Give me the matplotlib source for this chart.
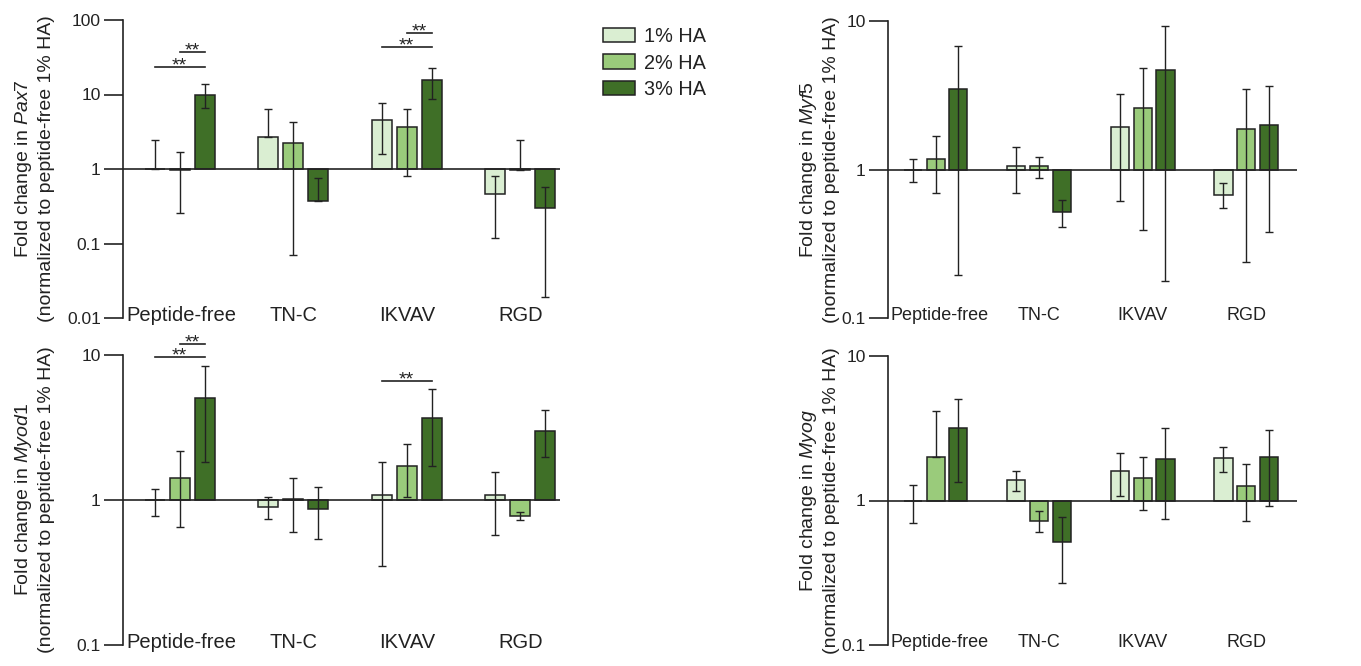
import numpy as np
import matplotlib
matplotlib.use("Agg")
import matplotlib.pyplot as plt
from matplotlib.patches import Patch
from matplotlib.ticker import FixedLocator, NullLocator, FuncFormatter

plt.rcParams['font.family'] = ['Liberation Sans', 'DejaVu Sans']
plt.rcParams['mathtext.fontset'] = 'custom'
plt.rcParams['mathtext.rm'] = 'Liberation Sans'
plt.rcParams['mathtext.it'] = 'Liberation Sans:italic'

peptides = ['Peptide-free', 'TN-C', 'IKVAV', 'RGD']
ha_levels = ['1% HA', '2% HA', '3% HA']
colors = ['#daeed2', '#9acb7b', '#3f6f27']

# fold change; rows = 1%, 2%, 3% HA, columns = peptides
pax7_mean = [[1.0, 2.72, 4.6, 0.46], [0.96, 2.24, 3.63, 0.97], [10.0, 0.37, 15.8, 0.30]]
pax7_low = [[1.0, 2.72, 1.6, 0.118], [0.26, 0.070, 0.81, 0.97], [6.6, 0.37, 8.6, 0.019]]
pax7_high = [[2.43, 6.4, 7.6, 0.81], [1.67, 4.33, 6.4, 2.43], [14.0, 0.76, 22.9, 0.57]]

myf5_mean = [[1.0, 1.06, 1.93, 0.67], [1.17, 1.05, 2.61, 1.87], [3.5, 0.52, 4.71, 1.99]]
myf5_low = [[0.82, 0.70, 0.61, 0.55], [0.69, 0.88, 0.39, 0.24], [0.195, 0.41, 0.178, 0.38]]
myf5_high = [[1.17, 1.42, 3.24, 0.81], [1.67, 1.21, 4.84, 3.5], [6.8, 0.62, 9.3, 3.63]]

myod1_mean = [[1.0, 0.90, 1.08, 1.08], [1.41, 1.01, 1.72, 0.78], [5.08, 0.87, 3.66, 3.0]]
myod1_low = [[0.78, 0.74, 0.35, 0.57], [0.65, 0.60, 1.05, 0.73], [1.84, 0.54, 1.72, 1.98]]
myod1_high = [[1.20, 1.05, 1.84, 1.57], [2.19, 1.41, 2.42, 0.83], [8.4, 1.22, 5.8, 4.2]]

myog_mean = [[1.0, 1.38, 1.6, 1.96], [2.0, 0.72, 1.42, 1.25], [3.2, 0.52, 1.93, 2.0]]
myog_low = [[0.70, 1.17, 1.08, 1.57], [2.0, 0.61, 0.86, 0.72], [1.35, 0.27, 0.74, 0.91]]
myog_high = [[1.29, 1.59, 2.13, 2.34], [4.14, 0.85, 2.0, 1.80], [5.04, 0.77, 3.15, 3.09]]

# significance brackets: (peptide index, first bar, last bar, height)
pax7_sig = [(0, 0, 2, 23.4), (0, 1, 2, 37.0), (2, 0, 2, 43.5), (2, 1, 2, 67.0)]
myod1_sig = [(0, 0, 2, 9.7), (0, 1, 2, 12.0), (2, 0, 2, 6.6)]

W, H = 1361, 666
fig = plt.figure(figsize=(W / 100, H / 100), dpi=100)

offset = 0.22
width = 0.175
ink = '#222222'


def draw_panel(rect, gene, mean, low, high, ylim, xlim, sig, cat_size, first_shift, label_x):
    ax = fig.add_axes(rect)
    ax.set_yscale('log')
    ax.set_ylim(*ylim)
    ax.set_xlim(*xlim)
    x = np.arange(len(peptides))
    for i in range(3):
        m = np.array(mean[i])
        lo = np.array(low[i])
        hi = np.array(high[i])
        xi = x + (i - 1) * offset
        ax.bar(xi, m - 1, bottom=1, width=width, color=colors[i],
               edgecolor=ink, linewidth=1.1, zorder=2)
        ax.errorbar(xi, m, yerr=[m - lo, hi - m], fmt='none', ecolor=ink,
                    elinewidth=1.0, capsize=3, capthick=1.0, zorder=3)
    ax.axhline(1, color=ink, lw=1.2, zorder=4)

    for s in ['top', 'right', 'bottom']:
        ax.spines[s].set_visible(False)
    ax.spines['left'].set_linewidth(1.2)
    ax.spines['left'].set_color(ink)

    decades = 10.0 ** np.arange(np.log10(ylim[0]), np.log10(ylim[1]) + 1)
    ax.yaxis.set_major_locator(FixedLocator(decades))
    ax.yaxis.set_minor_locator(NullLocator())
    ax.yaxis.set_major_formatter(FuncFormatter(lambda v, p: '%g' % v))
    ax.tick_params(axis='y', length=14, width=1.2, color=ink,
                   labelsize=12.5, pad=2, labelcolor=ink)
    ax.set_xticks([])

    for k, (xi, name) in enumerate(zip(x, peptides)):
        dx = first_shift if k == 0 else 0
        ax.annotate(name, xy=(xi, 0), xycoords=ax.get_xaxis_transform(),
                    xytext=(dx, 2), textcoords='offset points',
                    ha='center', va='center', fontsize=cat_size, color=ink)

    ax.text(label_x, 0.5, 'Fold change in $\\it{' + gene + '}$\n(normalized to peptide-free 1% HA)',
            transform=ax.transAxes, rotation=90, ha='center', va='center',
            multialignment='center', fontsize=14, color=ink, linespacing=1.28)

    for g, a, b, h in sig:
        xa = g + (a - 1) * offset
        xb = g + (b - 1) * offset
        ax.plot([xa, xb], [h, h], color=ink, lw=1.2, clip_on=False)
        ax.annotate('**', xy=((xa + xb) / 2, h), xytext=(0, -2.5),
                    textcoords='offset points', ha='center', va='baseline',
                    fontsize=14, color=ink, annotation_clip=False)
    return ax


left_x = (-0.5, 3.35)
right_x = (-0.46, 3.49)

draw_panel([123 / W, 1 - 318 / H, 437 / W, 298 / H], 'Pax7',
           pax7_mean, pax7_low, pax7_high, (0.01, 100), left_x, pax7_sig, 14.5, 1, -0.203)
draw_panel([888 / W, 1 - 318 / H, 409 / W, 297 / H], 'Myf5',
           myf5_mean, myf5_low, myf5_high, (0.1, 10), right_x, [], 13, 3, -0.168)
draw_panel([123 / W, 1 - 645 / H, 437 / W, 290 / H], 'Myod1',
           myod1_mean, myod1_low, myod1_high, (0.1, 10), left_x, myod1_sig, 14.5, 1, -0.203)
draw_panel([888 / W, 1 - 645 / H, 409 / W, 289 / H], 'Myog',
           myog_mean, myog_low, myog_high, (0.1, 10), right_x, [], 13, 3, -0.168)

handles = [Patch(facecolor=c, edgecolor=ink, linewidth=1.1) for c in colors]
fig.legend(handles, ha_levels, loc='upper left', bbox_to_anchor=(603 / W, 1 - 27 / H),
           frameon=False, fontsize=14.3, handlelength=1.6, handleheight=0.75,
           handletextpad=0.45, labelspacing=0.38, borderpad=0, borderaxespad=0,
           labelcolor=ink)

fig.savefig('out.png', dpi=100)
